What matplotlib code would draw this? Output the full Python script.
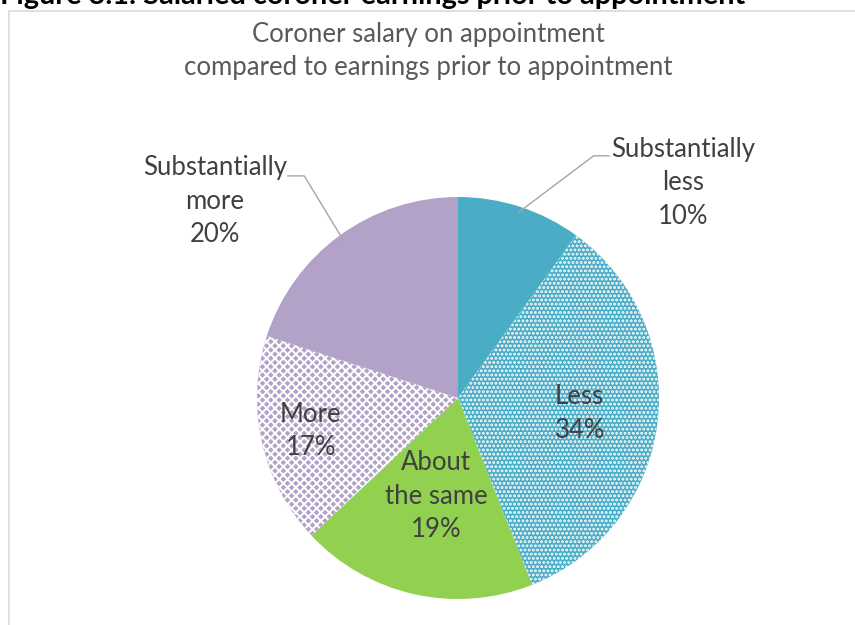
import numpy as np
import matplotlib
matplotlib.use('Agg')
import matplotlib.pyplot as plt
from matplotlib.patches import Rectangle

plt.rcParams['font.family'] = ['Lato', 'DejaVu Sans']
plt.rcParams['hatch.linewidth'] = 1.4

# Survey answers, clockwise from 12 o'clock
categories = ["Substantially\nless", "Less", "About\nthe same", "More", "Substantially\nmore"]
shares = [10, 34, 19, 17, 20]
colors = ["#4BACC6", "#4BACC6", "#92D050", "#B3A2C7", "#B3A2C7"]
hatches = [None, "....", None, "xxxx", None]

fig = plt.figure(figsize=(8.55, 6.25), dpi=100)

# figure-wide axes, 1 unit = pie radius (201 px), pie centre at (458, 398) px
ax = fig.add_axes([0, 0, 1, 1])

wedges, _ = ax.pie(shares, colors=colors, startangle=90, counterclock=False,
                   radius=1, center=(0, 0), frame=True,
                   wedgeprops=dict(linewidth=0))
ax.set_xlim(-458 / 201, (855 - 458) / 201)
ax.set_ylim(-(625 - 398) / 201, 398 / 201)
ax.axis('off')
for w, h in zip(wedges, hatches):
    if h:
        w.set_hatch(h)
        w.set_edgecolor('white')
        w.set_linewidth(0)

# mid angle of each slice (degrees, counter-clockwise from +x)
mids = [(w.theta1 + w.theta2) / 2 for w in wedges]

labels = [f"{c}\n{s}%" for c, s in zip(categories, shares)]
txt = dict(ha='center', va='center', fontsize=18.5, color='#404040', linespacing=1.42)

# labels inside the pie
for i, r in [(1, 0.61), (2, 0.50), (3, 0.75)]:
    a = np.deg2rad(mids[i])
    ax.text(r * np.cos(a), r * np.sin(a), labels[i], **txt)

# labels outside with leader lines
outside = [(0, (1.12, 1.07), (0.675, 1.205), 0.755), (4, (-1.21, 0.98), (-0.765, 1.105), -0.85)]
for i, pos, elbow, line_end in outside:
    a = np.deg2rad(mids[i])
    edge = (0.97 * np.cos(a), 0.97 * np.sin(a))
    ax.plot([edge[0], elbow[0], line_end], [edge[1], elbow[1], elbow[1]],
            color='#A6A6A6', lw=1.0, solid_capstyle='butt')
    ax.text(pos[0], pos[1], labels[i], **txt)

# chart title
fig.text(428 / 855, 1 - 51 / 625,
         "Coroner salary on appointment\ncompared to earnings prior to appointment",
         ha='center', va='center', fontsize=18.5, color='#595959', linespacing=1.42)

# chart area border
fig.patches.append(Rectangle((9 / 855, -0.1), 1.2, 1.1 - 11 / 625,
                             transform=fig.transFigure, fill=False,
                             edgecolor='#D9D9D9', lw=1.2))

# figure caption running off the top
fig.text(0, 1 - 4 / 625, "Figure 3.1: Salaried coroner earnings prior to appointment",
         ha='left', va='baseline', fontsize=20.8, fontweight='bold', color='black')

fig.savefig("out.png", dpi=100)
